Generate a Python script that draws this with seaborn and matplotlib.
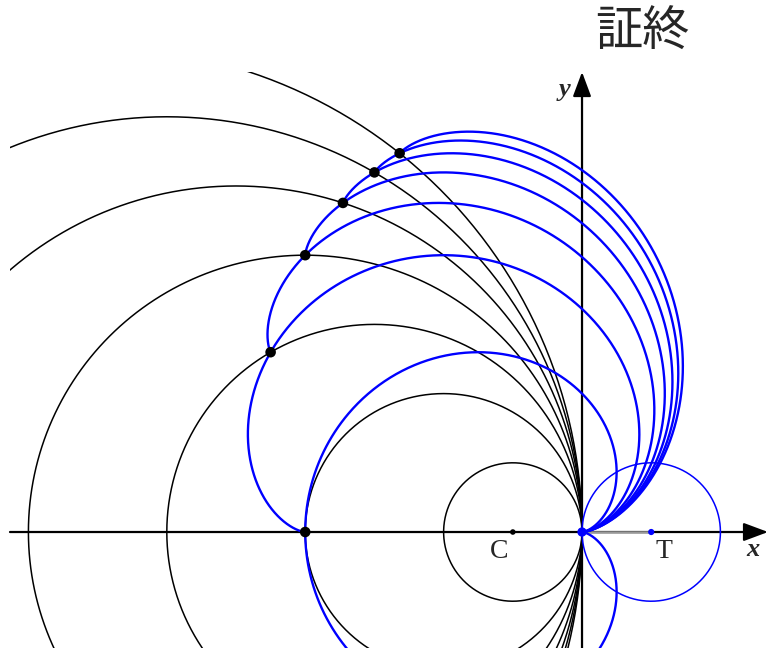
import numpy as np
import pandas as pd
import matplotlib
matplotlib.use("Agg")
import matplotlib.pyplot as plt
import seaborn as sns

# Fixed circles of radius k, centred at (-k, 0); all touch the y-axis at the origin
fixed_radii = [1, 2, 3, 4, 5, 6, 7]
# Rolling circle T (radius 1, centred at (1, 0)) and the centre C of the unit fixed circle
rolling_radius = 1.0
rolling_center = (1.0, 0.0)
center_C = (-1.0, 0.0)
point_names = ["C", "T"]
axis_names = ["x", "y"]
title_text = "証終"

# Visible window in data units
x_range = (-8.266, 2.702)
y_range = (-1.676, 6.647)

sns.set_theme(style="white")
plt.rcParams["font.family"] = ["Liberation Serif", "DejaVu Serif"]

# --- build curve tables -------------------------------------------------------
rows = []
theta = np.linspace(0, 2 * np.pi, 721)
for k in fixed_radii:
    for th in theta:
        rows.append(("circle", f"c{k}", -k + k * np.cos(th), k * np.sin(th)))
circles = pd.DataFrame(rows, columns=["kind", "curve", "x", "y"])

# Epicycloid traced by the point of T starting at the origin while T rolls
# once (arc length 2*pi*r) around the outside of the fixed circle of radius k
rows = []
end_points = []
r = rolling_radius
for k in fixed_radii:
    t_end = 2 * np.pi * r / k
    t = np.linspace(0, t_end, 1200)
    cx, cy = -k + (k + r) * np.cos(t), (k + r) * np.sin(t)
    px = cx - r * np.cos((k + r) / r * t)
    py = cy - r * np.sin((k + r) / r * t)
    for a, b in zip(px, py):
        rows.append(("epi", f"e{k}", a, b))
    if k > 1:
        end_points.append((-k + k * np.cos(t_end), k * np.sin(t_end)))
epis = pd.DataFrame(rows, columns=["kind", "curve", "x", "y"])

t_circle = pd.DataFrame({
    "x": rolling_center[0] + rolling_radius * np.cos(theta),
    "y": rolling_center[1] + rolling_radius * np.sin(theta),
})
ends = pd.DataFrame(end_points, columns=["x", "y"])

# --- figure -------------------------------------------------------------------
fig = plt.figure(figsize=(7.69, 6.48), dpi=100)
ax = fig.add_axes([10 / 769, 0, 759 / 769, 576 / 648])
ax.set_xlim(*x_range)
ax.set_ylim(*y_range)
ax.axis("off")

# coordinate axes with arrow heads
arrow = dict(arrowstyle="-|>,head_length=0.75,head_width=0.28", lw=1.6,
             color="black", shrinkA=0, shrinkB=0, mutation_scale=20)
ax.annotate("", xy=(2.688, 0), xytext=(x_range[0], 0), arrowprops=arrow,
            annotation_clip=False, zorder=1)
ax.annotate("", xy=(0, y_range[1]), xytext=(0, y_range[0]), arrowprops=arrow,
            annotation_clip=False, zorder=1)
# segment from the origin to the centre of T
sns.lineplot(x=[0.0, rolling_center[0]], y=[0.0, rolling_center[1]],
             color="#999999", lw=1.8, ax=ax, zorder=1.5)

sns.lineplot(data=circles, x="x", y="y", units="curve", estimator=None,
             sort=False, color="black", lw=1.1, ax=ax, zorder=2)
sns.lineplot(data=t_circle, x="x", y="y", estimator=None, sort=False,
             color="#0000ff", lw=1.1, ax=ax, zorder=3)
sns.lineplot(data=epis, x="x", y="y", units="curve", estimator=None,
             sort=False, color="#0000ff", lw=1.7, ax=ax, zorder=3)

sns.scatterplot(data=ends, x="x", y="y", color="black", s=58, ax=ax,
                zorder=5, edgecolor="none")
sns.scatterplot(x=[center_C[0]], y=[center_C[1]], color="black", s=16, ax=ax,
                zorder=5, edgecolor="none")
sns.scatterplot(x=[rolling_center[0]], y=[rolling_center[1]], color="#0000ff",
                s=20, ax=ax, zorder=5, edgecolor="none")
sns.scatterplot(x=[0.0], y=[0.0], color="#0000ff", s=45, ax=ax, zorder=5,
                edgecolor="none")
ax.set_xlabel("")
ax.set_ylabel("")
ax.set_xlim(*x_range)
ax.set_ylim(*y_range)

ax.text(-1.20, -0.275, point_names[0], ha="center", va="center", fontsize=20)
ax.text(1.185, -0.275, point_names[1], ha="center", va="center", fontsize=20)
ax.text(2.47, -0.25, axis_names[0], ha="center", va="center", fontsize=19,
        style="italic", weight="bold")
ax.text(-0.246, 6.40, axis_names[1], ha="center", va="center", fontsize=19,
        style="italic", weight="bold")

fig.text(642 / 769, 1 - 33 / 648, title_text, ha="center", va="center",
         fontsize=34, family=["Noto Sans CJK JP", "DejaVu Sans"])

fig.savefig("out.png", dpi=100)
